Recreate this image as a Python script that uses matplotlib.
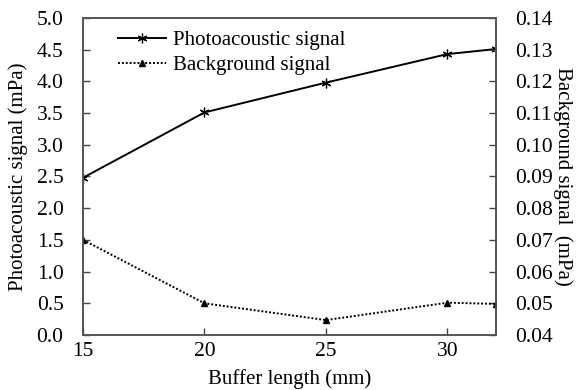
import matplotlib
matplotlib.use('Agg')
import matplotlib.pyplot as plt
from matplotlib.lines import Line2D

plt.rcParams['font.family'] = ['Liberation Serif', 'DejaVu Serif']

# Data
buffer_length = [15, 20, 25, 30, 32]
photoacoustic = [2.48, 3.51, 3.98, 4.43, 4.51]
background = [0.070, 0.050, 0.0447, 0.0502, 0.0498]

tick_fs = 15.5
label_fs = 15
fig = plt.figure(figsize=(5.78, 3.9), dpi=100)
ax = fig.add_axes([0.1436, 0.141, 0.7146, 0.813])
ax2 = ax.twinx()

star = (6, 2, 0)
ax.plot(buffer_length, photoacoustic, color='black', lw=1.4,
        marker=star, markersize=7, markeredgewidth=0.9)
ax2.plot(buffer_length, background, color='black', lw=1.4, linestyle=(0, (1, 1)),
         marker='^', markersize=5)

ax.set_xlim(15, 32)
ax.set_ylim(0, 5)
ax2.set_ylim(0.04, 0.14)
ax.set_xticks([15, 20, 25, 30])
ax.set_yticks([0.0, 0.5, 1.0, 1.5, 2.0, 2.5, 3.0, 3.5, 4.0, 4.5, 5.0])
ax.set_yticklabels([f'{v:.1f}' for v in ax.get_yticks()])
ax2.set_yticks([0.04, 0.05, 0.06, 0.07, 0.08, 0.09, 0.10, 0.11, 0.12, 0.13, 0.14])
ax2.set_yticklabels([f'{v:.2f}' for v in ax2.get_yticks()])

ax.tick_params(axis='both', direction='in', labelsize=tick_fs, length=5, width=1, color='#444444')
ax2.tick_params(axis='y', direction='in', labelsize=tick_fs, length=5, width=1, color='#444444', pad=14)
ax.tick_params(axis='y', pad=14)
ax.tick_params(axis='x', pad=5)

for a in (ax, ax2):
    for s in a.spines.values():
        s.set_color('#555555')
        s.set_linewidth(1.2)

ax.set_xlabel('Buffer length (mm)', fontsize=label_fs, labelpad=6)
ax.set_ylabel('Photoacoustic signal (mPa)', fontsize=label_fs, labelpad=6)
ax2.set_ylabel('Background signal  (mPa)', fontsize=label_fs, rotation=-90, labelpad=14)

handles = [
    Line2D([], [], color='black', lw=1.4, marker=star, markersize=7, markeredgewidth=0.9),
    Line2D([], [], color='black', lw=1.4, linestyle=(0, (1, 1)), marker='^', markersize=5),
]
ax.legend(handles, ['Photoacoustic signal', 'Background signal'], loc='upper left',
          bbox_to_anchor=(0.055, 1.0), frameon=False, fontsize=label_fs,
          handlelength=2.3, handletextpad=0.35, labelspacing=0.25, borderaxespad=0.2)

fig.savefig('out.png', dpi=100)
